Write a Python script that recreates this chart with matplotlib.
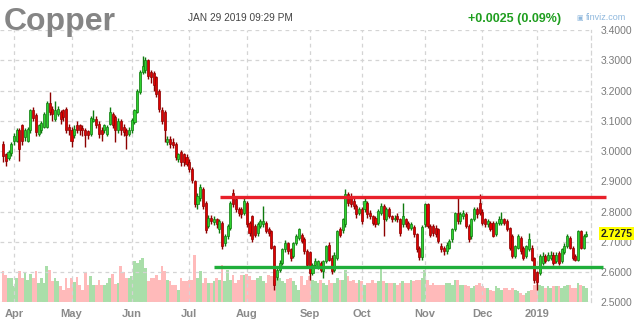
import matplotlib
matplotlib.use("Agg")
import matplotlib.pyplot as plt
import matplotlib.transforms as mtransforms
import numpy as np

plt.rcParams['font.family'] = ['Liberation Sans', 'DejaVu Sans']

# ---------------- data (daily copper futures, 2018-03-26 .. 2019-01-29) ----------------
opens = [
    3.024, 2.99, 2.978, 2.993, 3.035, 3.035, 3.069, 3.085, 3.046, 3.035,
    3.069, 3.135, 3.118, 3.058, 3.069, 3.08, 3.08, 3.16, 3.14, 3.107,
    3.124, 3.13, 3.135, 3.14, 3.08, 3.071, 3.052, 3.087, 3.085, 3.078,
    3.069, 3.065, 3.058, 3.10, 3.107, 3.09, 3.069, 3.069, 3.058, 3.09,
    3.124, 3.113, 3.069, 3.10, 3.08, 3.069, 3.058, 3.069, 3.096, 3.13,
    3.196, 3.262, 3.268, 3.30, 3.262, 3.257, 3.246, 3.20, 3.135, 3.13,
    3.03, 3.041, 3.03, 3.024, 2.974, 2.997, 2.99, 2.98, 2.965, 2.94,
    2.90, 2.825, 2.845, 2.875, 2.83, 2.752, 2.78, 2.766, 2.775, 2.741,
    2.763, 2.697, 2.719, 2.747, 2.86, 2.841, 2.808, 2.808, 2.797, 2.83,
    2.763, 2.786, 2.752, 2.73, 2.752, 2.758, 2.763, 2.741, 2.736, 2.686,
    2.585, 2.608, 2.63, 2.675, 2.697, 2.675, 2.652, 2.697, 2.713, 2.724,
    2.708, 2.669, 2.665, 2.597, 2.624, 2.62, 2.63, 2.603, 2.636, 2.69,
    2.647, 2.608, 2.647, 2.741, 2.74, 2.758, 2.858, 2.852, 2.836, 2.819,
    2.797, 2.808, 2.808, 2.83, 2.797, 2.786, 2.78, 2.763, 2.797, 2.819,
    2.775, 2.808, 2.786, 2.775, 2.786, 2.775, 2.758, 2.775, 2.763, 2.747,
    2.75, 2.725, 2.68, 2.65, 2.758, 2.825, 2.752, 2.752, 2.747, 2.741,
    2.686, 2.68, 2.669, 2.68, 2.708, 2.741, 2.795, 2.769, 2.785, 2.791,
    2.752, 2.72, 2.775, 2.808, 2.83, 2.80, 2.775, 2.758, 2.763, 2.763,
    2.725, 2.763, 2.763, 2.775, 2.769, 2.747, 2.72, 2.652, 2.68, 2.713,
    2.68, 2.652, 2.675, 2.68, 2.647, 2.60, 2.597, 2.63, 2.652, 2.641,
    2.647, 2.658, 2.636, 2.663, 2.636, 2.668, 2.686, 2.713, 2.68, 2.652,
    2.641, 2.735, 2.68, 2.72,
]
highs = [
    3.035, 2.995, 3.005, 3.03, 3.06, 3.078, 3.075, 3.09, 3.075, 3.08,
    3.14, 3.145, 3.125, 3.09, 3.10, 3.13, 3.165, 3.196, 3.15, 3.165,
    3.15, 3.135, 3.14, 3.145, 3.09, 3.08, 3.085, 3.10, 3.09, 3.085,
    3.075, 3.07, 3.115, 3.135, 3.115, 3.10, 3.08, 3.09, 3.088, 3.145,
    3.13, 3.12, 3.11, 3.105, 3.09, 3.075, 3.08, 3.11, 3.14, 3.205,
    3.27, 3.315, 3.31, 3.305, 3.27, 3.265, 3.25, 3.205, 3.145, 3.135,
    3.05, 3.05, 3.045, 3.03, 2.995, 3.005, 2.995, 2.99, 2.975, 2.948,
    2.905, 2.86, 2.89, 2.88, 2.835, 2.79, 2.79, 2.785, 2.78, 2.775,
    2.77, 2.725, 2.76, 2.835, 2.875, 2.85, 2.815, 2.815, 2.847, 2.835,
    2.77, 2.79, 2.76, 2.765, 2.775, 2.819, 2.77, 2.75, 2.74, 2.69,
    2.615, 2.64, 2.68, 2.705, 2.70, 2.68, 2.70, 2.725, 2.747, 2.73,
    2.715, 2.675, 2.67, 2.63, 2.645, 2.64, 2.635, 2.64, 2.69, 2.70,
    2.655, 2.665, 2.74, 2.75, 2.78, 2.875, 2.865, 2.86, 2.845, 2.825,
    2.815, 2.815, 2.852, 2.835, 2.805, 2.79, 2.785, 2.81, 2.83, 2.825,
    2.815, 2.815, 2.79, 2.79, 2.795, 2.78, 2.83, 2.78, 2.77, 2.765,
    2.755, 2.73, 2.685, 2.755, 2.83, 2.83, 2.76, 2.76, 2.755, 2.745,
    2.695, 2.685, 2.70, 2.71, 2.745, 2.80, 2.847, 2.80, 2.805, 2.80,
    2.76, 2.78, 2.815, 2.815, 2.858, 2.81, 2.78, 2.775, 2.77, 2.77,
    2.77, 2.785, 2.80, 2.78, 2.775, 2.75, 2.725, 2.69, 2.725, 2.72,
    2.685, 2.69, 2.73, 2.69, 2.65, 2.605, 2.66, 2.665, 2.66, 2.665,
    2.67, 2.665, 2.665, 2.67, 2.68, 2.695, 2.725, 2.72, 2.685, 2.66,
    2.74, 2.738, 2.725, 2.735,
]
lows = [
    2.963, 2.95, 2.97, 2.985, 3.02, 3.03, 2.969, 3.02, 3.035, 3.03,
    3.06, 3.10, 3.05, 3.05, 3.06, 3.075, 3.075, 3.12, 3.10, 3.10,
    3.115, 3.09, 3.10, 3.06, 3.055, 3.013, 3.045, 3.06, 3.055, 3.05,
    3.013, 3.04, 3.05, 3.095, 3.075, 3.045, 3.035, 3.06, 3.05, 3.085,
    3.075, 3.03, 3.06, 3.055, 3.05, 3.008, 3.05, 3.06, 3.09, 3.125,
    3.19, 3.255, 3.26, 3.24, 3.225, 3.20, 3.18, 3.13, 3.09, 3.03,
    3.02, 3.01, 3.01, 2.97, 2.965, 2.95, 2.95, 2.95, 2.93, 2.895,
    2.815, 2.81, 2.835, 2.81, 2.73, 2.745, 2.76, 2.755, 2.745, 2.73,
    2.675, 2.685, 2.71, 2.74, 2.815, 2.80, 2.785, 2.78, 2.79, 2.75,
    2.72, 2.70, 2.715, 2.72, 2.745, 2.75, 2.73, 2.72, 2.675, 2.542,
    2.575, 2.60, 2.625, 2.665, 2.66, 2.635, 2.645, 2.69, 2.705, 2.695,
    2.66, 2.615, 2.575, 2.59, 2.615, 2.61, 2.60, 2.58, 2.63, 2.635,
    2.595, 2.60, 2.64, 2.715, 2.73, 2.75, 2.82, 2.815, 2.81, 2.78,
    2.79, 2.76, 2.80, 2.78, 2.775, 2.755, 2.75, 2.755, 2.79, 2.72,
    2.77, 2.78, 2.765, 2.77, 2.765, 2.72, 2.75, 2.75, 2.74, 2.74,
    2.715, 2.665, 2.64, 2.64, 2.75, 2.745, 2.715, 2.72, 2.715, 2.695,
    2.665, 2.655, 2.66, 2.675, 2.70, 2.735, 2.76, 2.76, 2.775, 2.745,
    2.70, 2.71, 2.77, 2.78, 2.79, 2.755, 2.75, 2.75, 2.735, 2.715,
    2.72, 2.755, 2.755, 2.755, 2.735, 2.672, 2.645, 2.645, 2.675, 2.66,
    2.64, 2.645, 2.67, 2.635, 2.565, 2.541, 2.59, 2.625, 2.63, 2.635,
    2.64, 2.625, 2.63, 2.625, 2.63, 2.66, 2.68, 2.675, 2.64, 2.635,
    2.635, 2.675, 2.675, 2.715,
]
closes = [
    2.985, 2.967, 2.997, 3.024, 3.05, 3.069, 3.008, 3.035, 3.069, 3.074,
    3.135, 3.11, 3.063, 3.085, 3.093, 3.124, 3.16, 3.13, 3.124, 3.135,
    3.14, 3.107, 3.113, 3.069, 3.069, 3.035, 3.074, 3.069, 3.069, 3.069,
    3.052, 3.052, 3.11, 3.107, 3.085, 3.058, 3.058, 3.085, 3.08, 3.13,
    3.085, 3.069, 3.10, 3.069, 3.063, 3.052, 3.071, 3.102, 3.135, 3.20,
    3.262, 3.28, 3.30, 3.25, 3.245, 3.218, 3.19, 3.14, 3.10, 3.069,
    3.04, 3.024, 3.019, 2.98, 2.99, 2.963, 2.965, 2.958, 2.94, 2.905,
    2.825, 2.85, 2.88, 2.82, 2.74, 2.78, 2.77, 2.777, 2.758, 2.769,
    2.686, 2.719, 2.752, 2.83, 2.825, 2.808, 2.797, 2.791, 2.836, 2.758,
    2.73, 2.708, 2.724, 2.758, 2.769, 2.769, 2.736, 2.73, 2.68, 2.558,
    2.608, 2.63, 2.675, 2.697, 2.669, 2.647, 2.697, 2.719, 2.741, 2.702,
    2.669, 2.624, 2.597, 2.624, 2.636, 2.636, 2.608, 2.636, 2.686, 2.64,
    2.603, 2.658, 2.736, 2.724, 2.775, 2.858, 2.83, 2.825, 2.819, 2.791,
    2.808, 2.769, 2.836, 2.791, 2.786, 2.763, 2.758, 2.802, 2.819, 2.775,
    2.808, 2.786, 2.775, 2.78, 2.775, 2.73, 2.786, 2.758, 2.747, 2.758,
    2.725, 2.675, 2.65, 2.75, 2.825, 2.752, 2.724, 2.73, 2.725, 2.702,
    2.675, 2.669, 2.691, 2.702, 2.741, 2.797, 2.769, 2.791, 2.797, 2.752,
    2.708, 2.775, 2.808, 2.791, 2.797, 2.763, 2.758, 2.769, 2.741, 2.72,
    2.763, 2.775, 2.775, 2.763, 2.741, 2.68, 2.652, 2.686, 2.72, 2.669,
    2.647, 2.686, 2.708, 2.64, 2.575, 2.567, 2.652, 2.652, 2.636, 2.658,
    2.658, 2.63, 2.658, 2.63, 2.675, 2.686, 2.72, 2.68, 2.647, 2.641,
    2.735, 2.68, 2.72, 2.7275,
]
volumes = [
    31, 27, 24, 24, 16, 24, 31, 24, 29, 22,
    28, 24, 31, 19, 24, 19, 36, 32, 21, 24,
    21, 16, 12, 24, 14, 24, 20, 25, 17, 12,
    30, 17, 26, 17, 17, 22, 17, 17, 19, 24,
    28, 18, 19, 36, 30, 24, 24, 26, 41, 39,
    42, 44, 34, 21, 24, 24, 27, 22, 36, 31,
    22, 21, 17, 17, 12, 24, 21, 21, 22, 22,
    47, 24, 31, 19, 24, 19, 19, 21, 24, 22,
    37, 21, 32, 22, 27, 19, 22, 27, 27, 28,
    26, 22, 22, 24, 26, 21, 19, 27, 26, 22,
    26, 24, 21, 19, 23, 24, 21, 17, 12, 26,
    17, 22, 26, 22, 21, 19, 22, 19, 17, 22,
    19, 19, 24, 22, 22, 32, 26, 21, 22, 19,
    22, 21, 17, 19, 19, 22, 19, 21, 34, 21,
    19, 19, 19, 19, 17, 19, 21, 19, 19, 22,
    21, 22, 22, 24, 32, 22, 17, 19, 17, 17,
    17, 17, 19, 19, 17, 22, 22, 17, 17, 17,
    16, 14, 16, 17, 19, 16, 14, 14, 12, 11,
    16, 14, 12, 14, 14, 12, 14, 12, 11, 9,
    7, 9, 11, 12, 17, 21, 17, 16, 14, 16,
    14, 16, 16, 16, 14, 16, 17, 17, 14, 14,
    19, 17, 16, 14,
]

month_labels = ['Apr', 'May', 'Jun', 'Jul', 'Aug', 'Sep', 'Oct', 'Nov', 'Dec', '2019']
month_start_idx = [4, 25, 47, 68, 89, 112, 131, 154, 175, 195]
price_ticks = [2.5, 2.6, 2.7, 2.8, 2.9, 3.0, 3.1, 3.2, 3.3, 3.4]

resistance_level = 2.848
resistance_span = (79.3, 220.1)
support_level = 2.617
support_span = (77.0, 218.9)

title = 'Copper'
timestamp = 'JAN 29 2019 09:29 PM'
change_text = '+0.0025 (0.09%)'
last_price = 2.7275

# ---------------- drawing ----------------
W, H = 640, 329
fig = plt.figure(figsize=(W / 100, H / 100), dpi=100)
ax_left, ax_right_px = 0, 591
ax_top_px, ax_bot_px = 30.2, 302.3
ax = fig.add_axes([ax_left / W, (H - ax_bot_px) / H,
                   (ax_right_px - ax_left) / W, (ax_bot_px - ax_top_px) / H])
axv = ax.twinx()
ax.set_zorder(axv.get_zorder() + 1)
ax.patch.set_visible(False)

o = np.array(opens); h = np.array(highs); l = np.array(lows); c = np.array(closes)
v = np.array(volumes)
idx = np.arange(len(c))
up = c >= o

# volume bars
vol_colors = np.where(up, '#a9dea9', '#ffbaba')
axv.bar(idx, v, width=1.0, color=vol_colors, linewidth=0, zorder=1)
axv.set_ylim(0, ax_bot_px - ax_top_px)
axv.set_yticks([])
for s in axv.spines.values():
    s.set_visible(False)

# grid
ax.set_axisbelow(True)
ax.grid(True, color='#d4d4d4', linestyle=(0, (3, 3)), linewidth=0.9)

# candles
edge = np.where(up, '#0e7a0e', '#8c0000')
body = np.where(up, '#2fd12f', '#e00000')
ax.vlines(idx, l, h, colors=edge, linewidth=1.0, zorder=3)
bottoms = np.minimum(o, c)
heights = np.maximum(np.abs(c - o), 0.003)
ax.bar(idx, heights, bottom=bottoms, width=0.75, color=body,
       edgecolor=edge, linewidth=0.5, zorder=4)

# support / resistance
ax.plot(resistance_span, [resistance_level] * 2, color='#e8202a', linewidth=2.4,
        solid_capstyle='butt', zorder=5, clip_on=False)
ax.plot(support_span, [support_level] * 2, color='#1fae3a', linewidth=2.4,
        solid_capstyle='butt', zorder=5, clip_on=False)

ax.set_xlim(-1.11, 214.7)
ax.set_ylim(2.5, 3.4)

ax.yaxis.tick_right()
ax.set_yticks(price_ticks)
ax.set_yticklabels([f'{t:.4f}' for t in price_ticks])
ax.tick_params(axis='y', length=0, pad=7, labelsize=7.5, labelcolor='#7a7a7a')
ax.set_xticks(month_start_idx)
ax.set_xticklabels(month_labels, fontweight='bold')
ax.tick_params(axis='x', length=0, pad=5, labelsize=8, labelcolor='#8a8a8a')

for name in ['left', 'top', 'bottom']:
    ax.spines[name].set_visible(False)
ax.spines['right'].set_linestyle((0, (3, 3)))
ax.spines['right'].set_color('#d4d4d4')
ax.spines['right'].set_linewidth(0.9)

# last price label
trans = mtransforms.blended_transform_factory(ax.transAxes, ax.transData)
ax.annotate(f'{last_price:.4f}', xy=(1.0, last_price), xycoords=trans,
            xytext=(7, 0), textcoords='offset points', va='center', ha='left',
            fontsize=7.5, fontweight='bold', color='#222222', zorder=10,
            bbox=dict(boxstyle='square,pad=0.15', facecolor='#ffff00', edgecolor='none'),
            annotation_clip=False)

# header texts
fig.text(4 / W, 1 - 30 / H, title, fontsize=23, fontweight='bold', color='#858585',
         ha='left', va='baseline')
fig.text(188 / W, 1 - 21 / H, timestamp, fontsize=7.3, color='#444444',
         ha='left', va='baseline')
fig.text(561 / W, 1 - 22 / H, change_text, fontsize=9, fontweight='bold', color='#1f9e1f',
         ha='right', va='baseline')
fig.text(586 / W, 1 - 20 / H, 'finviz.com', fontsize=6.5, color='#8fb8dd',
         ha='left', va='baseline')
fig.text(576 / W, 1 - 20 / H, '\u25a3', fontsize=5, color='#8fb8dd',
         ha='left', va='baseline', family=['DejaVu Sans'])

fig.savefig('out.png', dpi=100)
